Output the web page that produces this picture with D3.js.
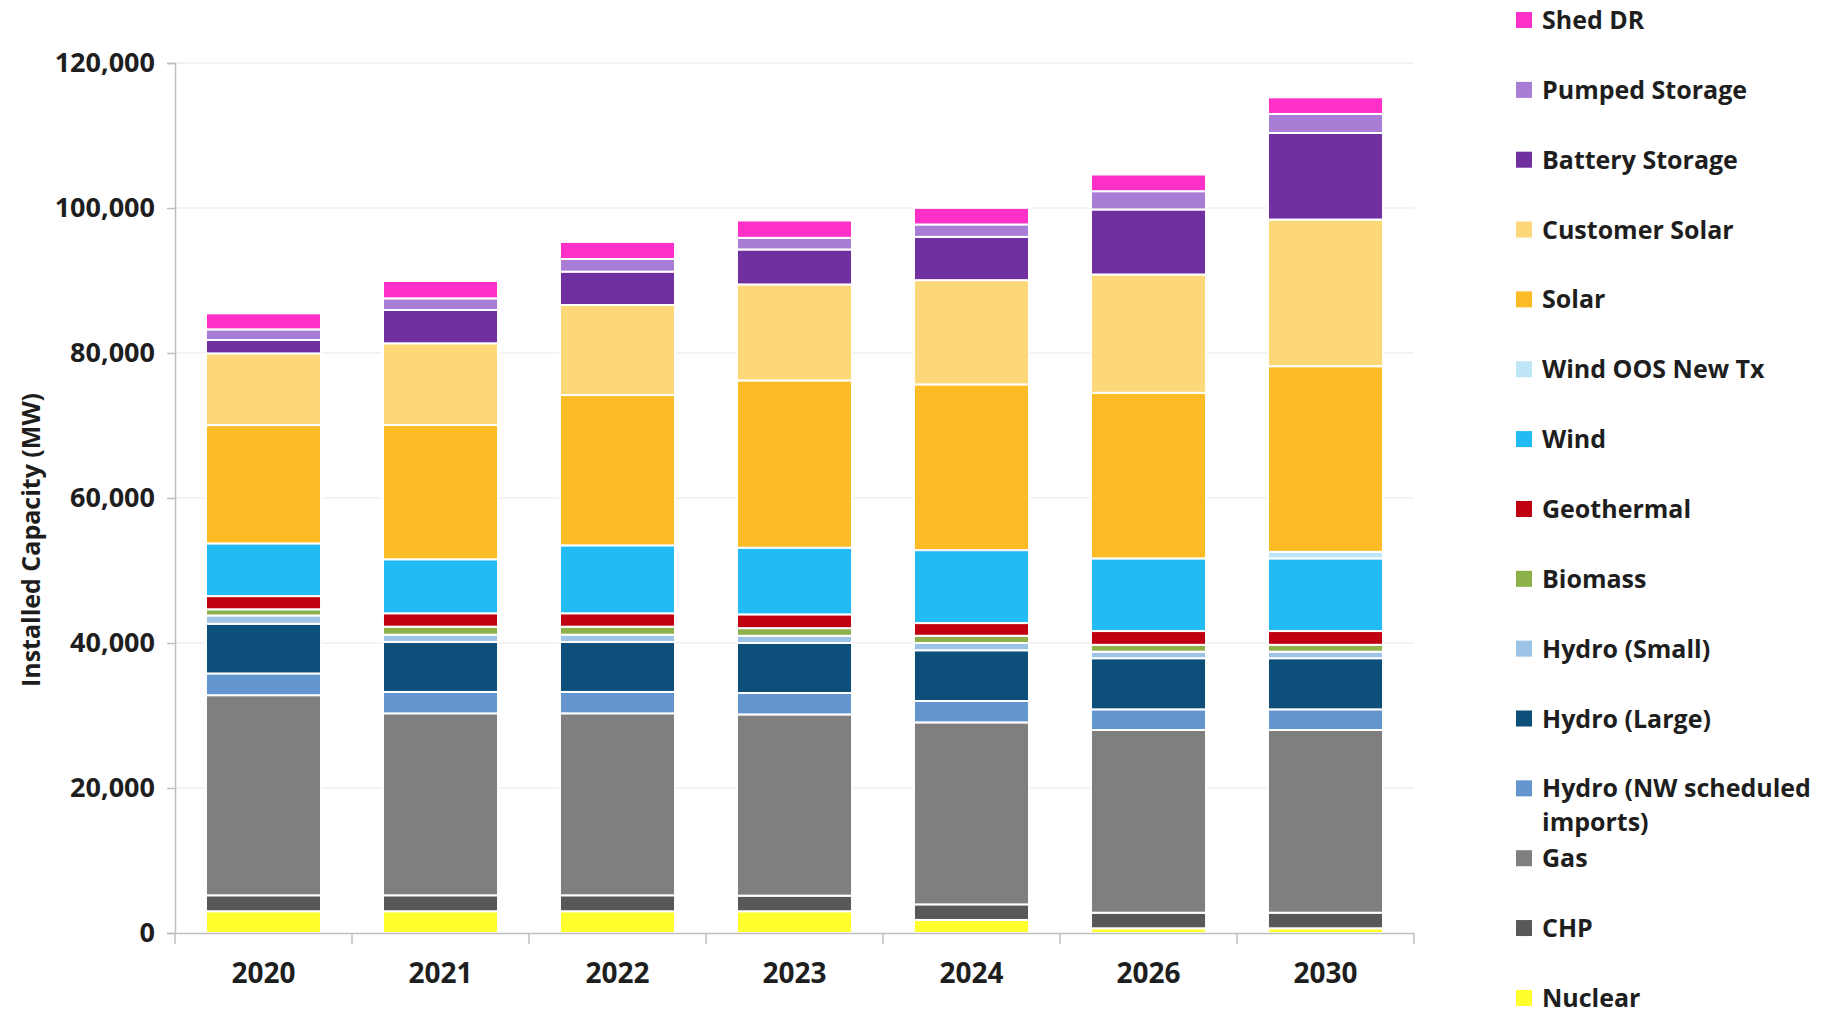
<!DOCTYPE html>
<html>
<head>
<meta charset="utf-8">
<script src="https://cdn.jsdelivr.net/npm/d3@7"></script>
<style>
  body { margin: 0; background: #fff; }
  text { font-family: "Open Sans", sans-serif; font-weight: bold; fill: #1e1e1e; }
</style>
</head>
<body>
<script>
// years on the x axis
var years = ["2020", "2021", "2022", "2023", "2024", "2026", "2030"];

// installed capacity by resource (MW)
var nuclear       = [3000, 3000, 3000, 3000, 1800, 650, 650];
var chp           = [2200, 2200, 2200, 2150, 2150, 2150, 2150];
var gas           = [27600, 25100, 25100, 25000, 25100, 25200, 25200];
var hydroNW       = [3000, 2950, 2950, 2950, 2950, 2850, 2850];
var hydroLarge    = [6850, 6900, 6900, 6900, 7000, 7050, 7050];
var hydroSmall    = [1150, 1000, 1000, 1000, 1000, 900, 900];
var biomass       = [850, 1100, 1100, 1050, 1000, 950, 950];
var geothermal    = [1820, 1850, 1850, 1900, 1750, 1900, 1900];
var wind          = [7270, 7450, 9370, 9200, 10060, 10020, 10020];
var windOOS       = [0, 0, 0, 0, 0, 0, 900];
var solar         = [16320, 18520, 20730, 23070, 22860, 22840, 25610];
var customerSolar = [9890, 11270, 12420, 13240, 14380, 16320, 20230];
var battery       = [1840, 4590, 4600, 4820, 5970, 8970, 11940];
var pumped        = [1470, 1610, 1750, 1600, 1710, 2520, 2620];
var shedDR        = [2210, 2390, 2350, 2400, 2290, 2300, 2300];

var yTicks = [0, 20000, 40000, 60000, 80000, 100000, 120000];

// series in stacking order (bottom first)
var series = [
  {key: "Nuclear", values: nuclear, color: "#ffff2e"},
  {key: "CHP", values: chp, color: "#585858"},
  {key: "Gas", values: gas, color: "#7f7f7f"},
  {key: "Hydro (NW scheduled imports)", values: hydroNW, color: "#6495cf"},
  {key: "Hydro (Large)", values: hydroLarge, color: "#0c4f7b"},
  {key: "Hydro (Small)", values: hydroSmall, color: "#9dc3e6"},
  {key: "Biomass", values: biomass, color: "#8db04a"},
  {key: "Geothermal", values: geothermal, color: "#c00010"},
  {key: "Wind", values: wind, color: "#23bbf4"},
  {key: "Wind OOS New Tx", values: windOOS, color: "#bfe6f7"},
  {key: "Solar", values: solar, color: "#fbbc26"},
  {key: "Customer Solar", values: customerSolar, color: "#fdd878"},
  {key: "Battery Storage", values: battery, color: "#7030a0"},
  {key: "Pumped Storage", values: pumped, color: "#a87dd6"},
  {key: "Shed DR", values: shedDR, color: "#ff30c8"}
];

var width = 1847, height = 1014;
var margin = {top: 63, right: 433, bottom: 81, left: 175};

var svg = d3.select("body").append("svg")
  .attr("width", width)
  .attr("height", height);

// build rows for d3.stack
var table = years.map(function(y, i) {
  var row = {year: y};
  series.forEach(function(s) { row[s.key] = s.values[i]; });
  return row;
});

var stack = d3.stack().keys(series.map(function(s) { return s.key; }));
var layers = stack(table);

var xScale = d3.scaleBand()
  .domain(years)
  .range([margin.left, width - margin.right])
  .paddingInner(0.35)
  .paddingOuter(0.175);

var yScale = d3.scaleLinear()
  .domain([0, 120000])
  .range([height - margin.bottom, margin.top]);

// gridlines
svg.append("g")
  .selectAll("line")
  .data(yTicks.slice(1))
  .enter().append("line")
  .attr("x1", margin.left)
  .attr("x2", width - margin.right)
  .attr("y1", function(d) { return yScale(d); })
  .attr("y2", function(d) { return yScale(d); })
  .attr("stroke", "#efefef")
  .attr("stroke-width", 1.5);

// bars
var colorOf = {};
series.forEach(function(s) { colorOf[s.key] = s.color; });

svg.append("g")
  .selectAll("g")
  .data(layers)
  .enter().append("g")
  .attr("fill", function(d) { return colorOf[d.key]; })
  .selectAll("rect")
  .data(function(d) { return d; })
  .enter().append("rect")
  .filter(function(d) { return d[1] - d[0] > 0; })
  .attr("x", function(d) { return xScale(d.data.year); })
  .attr("width", xScale.bandwidth())
  .attr("y", function(d) { return yScale(d[1]); })
  .attr("height", function(d) { return yScale(d[0]) - yScale(d[1]); })
  .attr("stroke", "#fff")
  .attr("stroke-width", 2);

// y axis
var yAxis = svg.append("g")
  .attr("transform", "translate(" + margin.left + ",0)")
  .call(d3.axisLeft(yScale)
    .tickValues(yTicks)
    .tickSize(8)
    .tickPadding(12)
    .tickFormat(d3.format(",")));
yAxis.select(".domain").attr("stroke", "#bfbfbf").attr("stroke-width", 1.5);
yAxis.selectAll(".tick line").attr("stroke", "#bfbfbf").attr("stroke-width", 1.5);
yAxis.selectAll(".tick text")
  .style("font-size", "27px")
  .style("font-family", "'Open Sans', sans-serif")
  .style("font-weight", "bold")
  .attr("fill", "#1e1e1e");

// x axis: line plus ticks between categories
var x0 = margin.left, yBase = yScale(0);
var xAxis = svg.append("g")
  .attr("transform", "translate(0," + yBase + ")")
  .call(d3.axisBottom(xScale).tickSize(0).tickPadding(30));
xAxis.select(".domain").attr("stroke", "#bfbfbf").attr("stroke-width", 1.5);
xAxis.selectAll(".tick text")
  .style("font-size", "28px")
  .style("font-family", "'Open Sans', sans-serif")
  .style("font-weight", "bold")
  .attr("fill", "#1e1e1e");

var step = xScale.step();
svg.append("g")
  .selectAll("line")
  .data(d3.range(years.length + 1))
  .enter().append("line")
  .attr("x1", function(i) { return x0 + i * step; })
  .attr("x2", function(i) { return x0 + i * step; })
  .attr("y1", yBase)
  .attr("y2", yBase + 11)
  .attr("stroke", "#bfbfbf")
  .attr("stroke-width", 1.5);

// y title
svg.append("text")
  .attr("transform", "translate(40," + 540 + ") rotate(-90)")
  .attr("text-anchor", "middle")
  .style("font-size", "25px")
  .text("Installed Capacity (MW)");

// legend, top to bottom is the reverse of the stack
var legendItems = series.slice().reverse();
var legend = svg.append("g")
  .selectAll("g")
  .data(legendItems)
  .enter().append("g")
  .attr("transform", function(d, i) { return "translate(1516," + (20 + i * 69.85) + ")"; });

legend.append("rect")
  .attr("x", 0)
  .attr("y", -8)
  .attr("width", 16)
  .attr("height", 16)
  .attr("fill", function(d) { return d.color; });

legend.append("text")
  .attr("x", 26)
  .attr("y", 9)
  .style("font-size", "25px")
  .each(function(d) {
    var t = d3.select(this);
    if (d.key === "Hydro (NW scheduled imports)") {
      t.append("tspan").attr("x", 26).text("Hydro (NW scheduled");
      t.append("tspan").attr("x", 26).attr("dy", 34).text("imports)");
    } else {
      t.text(d.key);
    }
  });
</script>
</body>
</html>
